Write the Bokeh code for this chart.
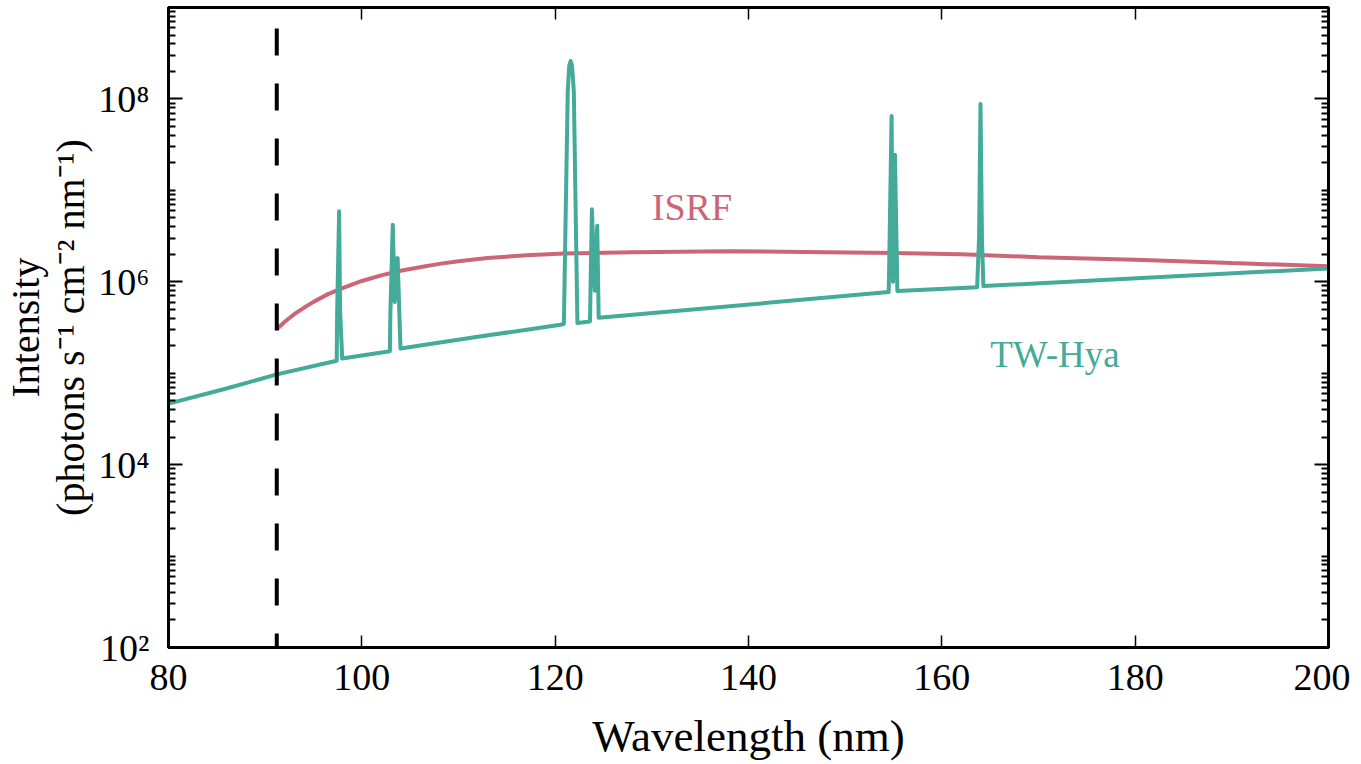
from bokeh.plotting import figure
from bokeh.models import FixedTicker, LinearAxis, LogAxis, Span, Label, CustomJSTickFormatter
from bokeh.embed import file_html
from bokeh.resources import INLINE

# ---- data ----
tw_wl = [80.0, 86.0, 91.2, 97.4, 97.45, 97.65, 97.75, 97.97,
         102.9, 102.95, 103.2, 103.4, 103.65, 103.7, 104.0,
         112.0, 120.55, 120.9, 121.3, 121.45, 121.6, 121.75, 121.93, 122.3,
         123.6, 123.8, 124.1, 124.35, 124.5,
         154.5, 154.55, 154.8, 154.95, 155.15, 155.4,
         163.65, 163.85, 164.0, 164.15, 164.3,
         200.0]
tw_int = [4.65e4, 6.8e4, 9.7e4, 1.37e5, 4.8e5, 5.9e6, 4.8e5, 1.45e5,
          1.74e5, 4.4e5, 4.2e6, 6.0e5, 1.8e6, 1.82e6, 1.86e5,
          2.5e5, 3.39e5, 3.47e5, 1.2e8, 2.3e8, 2.6e8, 2.3e8, 1.2e8, 3.55e5,
          3.67e5, 6.2e6, 8.0e5, 4.1e6, 4.04e5,
          7.71e5, 1.4e6, 6.5e7, 1.0e6, 2.45e7, 7.94e5,
          8.71e5, 3.0e6, 8.8e7, 3.0e6, 8.97e5,
          1.40e6]

isrf_wl = [91.2, 92.0, 93.0, 94.0, 95.0, 96.5, 98.0, 100.0, 102.0, 104.0, 106.0,
           108.0, 110.0, 113.0, 117.0, 121.0, 128.0, 138.0, 148.0, 155.0, 162.0,
           170.0, 180.0, 190.0, 200.0]
isrf_int = [3.02e5, 3.63e5, 4.42e5, 5.19e5, 6.03e5, 7.33e5, 8.51e5, 1.02e6, 1.175e6,
            1.32e6, 1.445e6, 1.57e6, 1.68e6, 1.82e6, 1.95e6, 2.04e6, 2.11e6, 2.16e6,
            2.11e6, 2.07e6, 2.0e6, 1.86e6, 1.74e6, 1.60e6, 1.48e6]

lyman_limit = 91.2

x_ticks = [80, 100, 120, 140, 160, 180, 200]
y_ticks = [1e2, 1e4, 1e6, 1e8]
y_tick_labels = {100: "10²", 10000: "10⁴", 1000000: "10⁶", 100000000: "10⁸"}

TEAL = "#44AA99"
ROSE = "#CC6677"
FONT = "Liberation Serif"

y_minor = []
for d in range(2, 9):
    for m in range(1, 10):
        if m == 1 and d % 2 == 0:
            continue
        y_minor.append(m * 10.0 ** d)
y_minor.append(1e9)

p = figure(frame_width=1160, frame_height=640, y_axis_type="log",
           x_range=(80, 200), y_range=(1e2, 1e9),
           output_backend="svg", toolbar_location=None,
           min_border_left=10, min_border_top=7, min_border_right=22, min_border_bottom=6)
p.background_fill_color = "white"
p.border_fill_color = "white"
p.xgrid.visible = False
p.ygrid.visible = False
p.outline_line_color = "black"
p.outline_line_width = 3

p.line(isrf_wl, isrf_int, line_color=ROSE, line_width=4)
p.line(tw_wl, tw_int, line_color=TEAL, line_width=4, line_join="round")

p.add_layout(Span(location=lyman_limit, dimension="height", line_color="black",
                  line_width=4, line_dash="27 28", line_dash_offset=34))

p.add_layout(Label(x=130.0, y=3.9e6, text="ISRF", text_color=ROSE,
                   text_font=FONT, text_font_size="38px"))
p.add_layout(Label(x=165.0, y=9.6e4, text="TW-Hya", text_color=TEAL,
                   text_font=FONT, text_font_size="37px"))

xt = FixedTicker(ticks=x_ticks)
yt = FixedTicker(ticks=y_ticks, minor_ticks=y_minor)
blank = CustomJSTickFormatter(code="return ''")

def style(ax):
    ax.axis_line_width = 3
    ax.axis_line_color = "black"
    ax.major_tick_out = 0
    ax.minor_tick_out = 0
    ax.major_tick_line_color = "black"
    ax.minor_tick_line_color = "black"
    ax.major_label_text_font = FONT
    ax.major_label_text_font_size = "38px"
    ax.major_label_text_color = "black"
    ax.axis_label_text_font = FONT
    ax.axis_label_text_font_style = "normal"
    ax.axis_label_text_color = "black"

xa = p.xaxis[0]
xa.ticker = xt
style(xa)
xa.major_tick_in = 12
xa.major_tick_line_width = 1.5
xa.minor_tick_line_color = None
xa.major_label_standoff = 17
xa.axis_label = "Wavelength (nm)"
xa.axis_label_text_font_size = "45px"
xa.axis_label_standoff = 18

ya = p.yaxis[0]
ya.ticker = yt
style(ya)
ya.major_tick_in = 14
ya.minor_tick_in = 7
ya.major_tick_line_width = 2
ya.minor_tick_line_width = 2
ya.major_label_overrides = y_tick_labels
ya.major_label_standoff = 19
ya.axis_label = "Intensity\n(photons s⁻¹ cm⁻² nm⁻¹)"
ya.axis_label_text_font_size = "40px"
ya.axis_label_text_line_height = 1.0
ya.axis_label_standoff = 2

top = LinearAxis(ticker=xt, formatter=blank)
style(top)
top.major_tick_in = 12
top.major_tick_line_width = 1.5
top.minor_tick_line_color = None
top.major_label_standoff = 0
p.add_layout(top, "above")

right = LogAxis(ticker=yt, formatter=blank)
style(right)
right.major_tick_in = 14
right.minor_tick_in = 7
right.major_tick_line_width = 2
right.minor_tick_line_width = 2
right.major_label_standoff = 0
p.add_layout(right, "right")

open("out.html", "w").write(file_html(p, INLINE))
